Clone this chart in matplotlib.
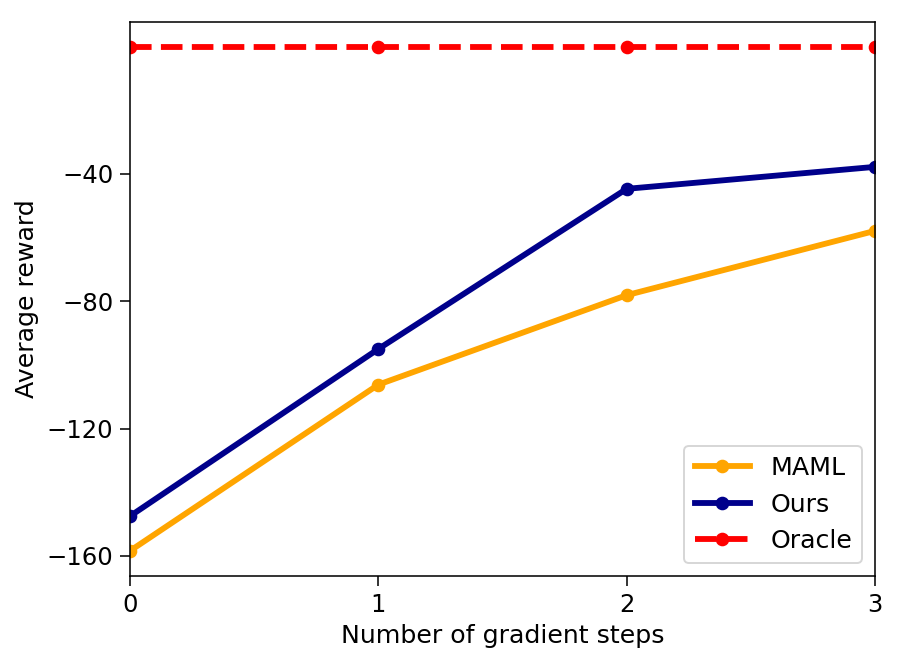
import matplotlib
matplotlib.use("Agg")
import matplotlib.pyplot as plt

steps = [0, 1, 2, 3]
maml = [-158.4, -106.2, -78.1, -57.9]
ours = [-147.5, -95.0, -44.7, -37.8]
oracle = [0.0, 0.0, 0.0, 0.0]
yticks = [-160, -120, -80, -40]

dpi = 140
fig = plt.figure(figsize=(898 / dpi, 664 / dpi), dpi=dpi)
ax = fig.add_axes([130 / 898, 88 / 664, 745 / 898, 554 / 664])

ax.plot(steps, maml, '-o', color='orange', lw=3, ms=6, label='MAML')
ax.plot(steps, ours, '-o', color='darkblue', lw=3, ms=6, label='Ours')
ax.plot(steps, oracle, '--o', color='red', lw=3, ms=6, label='Oracle')

ax.set_xlim(0, 3)
ax.set_ylim(-166.3, 7.7)
ax.set_xticks(steps)
ax.set_yticks(yticks)
ax.tick_params(labelsize=12.5, length=5)
ax.set_xlabel('Number of gradient steps', fontsize=13)
ax.set_ylabel('Average reward', fontsize=13)
ax.legend(loc='lower right', fontsize=13, handlelength=2.2)

fig.savefig('out.png', dpi=dpi)
